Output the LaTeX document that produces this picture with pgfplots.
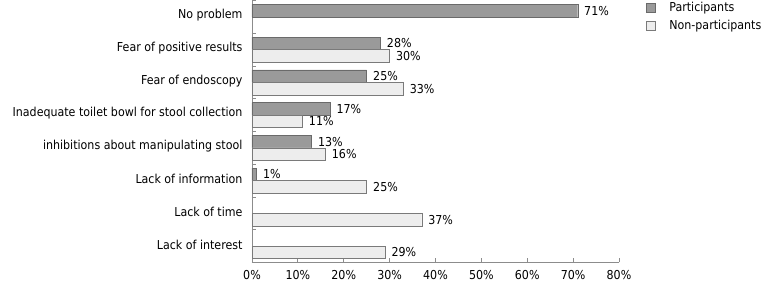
\documentclass[border=0pt]{standalone}
\usepackage{fontspec}
\setmainfont{DejaVu Sans Condensed}
\usepackage{pgfplots}
\pgfplotsset{compat=1.18}
\definecolor{pfill}{HTML}{9A9A9A}
\definecolor{pdraw}{HTML}{6A6A6A}
\definecolor{nfill}{HTML}{EDEDED}
\definecolor{ndraw}{HTML}{7A7A7A}
\newcommand{\chartfont}{\fontsize{12.3}{14}\selectfont}
\pgfplotsset{sqlegend/.style={legend image code/.code={\draw[##1] (0pt,-4.5pt) rectangle (9pt,4.5pt); \path[draw=none,fill=none] (0pt,0pt) -- (21pt,0pt);}}}
\begin{document}
\begin{tikzpicture}
\begin{axis}[
  name=ax,
  scale only axis, width=367pt, height=262pt,
  xbar, bar width=12.5pt,
  xmin=0, xmax=80, ymin=-0.5, ymax=7.5, y dir=reverse,
  axis x line*=bottom, axis y line*=left,
  axis line style={draw=black!45, line width=0.8pt},
  tick align=inside,
  xtick={0,10,...,80},
  xticklabel={\pgfmathprintnumber{\tick}\%},
  /pgf/number format/assume math mode=true,
  x tick label style={font=\chartfont, yshift=-4pt},
  xtick style={draw=black!45, line width=0.8pt},
  major tick length=4pt,
  ytick={0,...,7},
  yticklabels={No problem, Fear of positive results, Fear of endoscopy, Inadequate toilet bowl for stool collection, inhibitions about manipulating stool, Lack of information, Lack of time, Lack of interest},
  y tick label style={font=\chartfont, xshift=-6pt, yshift=1.5pt},
  ytick style={draw=none},
  minor ytick={-0.5,0.5,...,7.5},
  minor y tick style={draw=black!45, line width=0.8pt},
  minor tick length=4pt,
  nodes near coords={\pgfmathprintnumber{\pgfplotspointmeta}\%},
  nodes near coords style={font=\chartfont, anchor=west, xshift=3pt, /pgf/number format/assume math mode=true},
  point meta=explicit symbolic,
  legend style={draw=none, fill=none, at={(1.0736,1)}, anchor=north west, font=\chartfont, row sep=3pt, inner sep=0pt},
  legend cell align=left,
  clip=false,
]
\addplot[fill=pfill, draw=pdraw, bar shift=6.25pt, sqlegend]
  coordinates {(71,0)[71] (28,1)[28] (25,2)[25] (17,3)[17] (13,4)[13] (1,5)[1]};
\addplot[fill=nfill, draw=ndraw, bar shift=-6.25pt, sqlegend]
  coordinates {(30,1)[30] (33,2)[33] (11,3)[11] (16,4)[16] (25,5)[25] (37,6)[37] (29,7)[29]};
\legend{Participants, Non-participants}
\end{axis}
\path ([xshift=-252pt,yshift=-25pt]ax.south west) rectangle ([xshift=152pt]ax.north east);
\end{tikzpicture}
\end{document}
